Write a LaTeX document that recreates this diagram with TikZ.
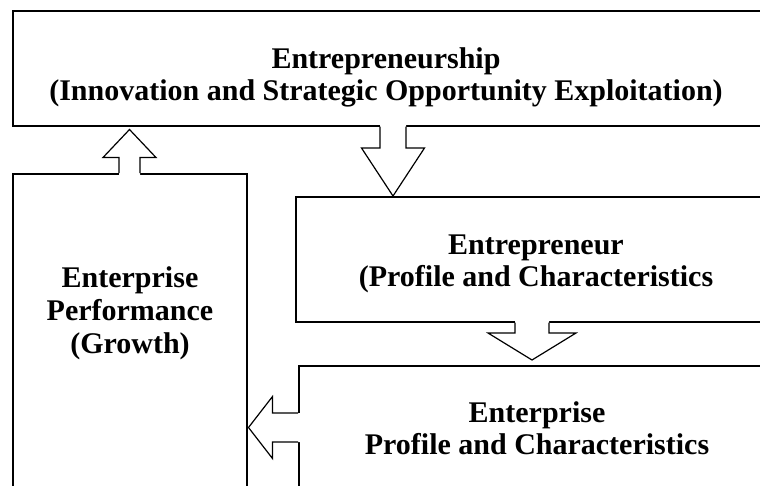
\documentclass[tikz,border=0pt]{standalone}
\usepackage{fontspec}
\setmainfont{Liberation Serif}
\usetikzlibrary{calc}
\newcommand{\blockarr}[5]{% base, tip, shaft half, head half, head length
  \coordinate (hb-#1) at ($(#2)!#5pt!(#1)$);
  \coordinate (bx-#1) at ($(#1)!-2.5pt!(#2)$);
  \fill[white] ($(bx-#1)!#3pt!90:(#2)$) -- ($(hb-#1)!#3pt!90:(#2)$) -- ($(hb-#1)!#4pt!90:(#2)$) -- (#2)
     -- ($(hb-#1)!#4pt!-90:(#2)$) -- ($(hb-#1)!#3pt!-90:(#2)$) -- ($(bx-#1)!#3pt!-90:(#2)$) -- cycle;
  \draw[arr] ($(#1)!#3pt!90:(#2)$) -- ($(hb-#1)!#3pt!90:(#2)$) -- ($(hb-#1)!#4pt!90:(#2)$) -- (#2)
     -- ($(hb-#1)!#4pt!-90:(#2)$) -- ($(hb-#1)!#3pt!-90:(#2)$) -- ($(#1)!#3pt!-90:(#2)$);
}
\begin{document}
\begin{tikzpicture}[x=1pt,y=-1pt,
  box/.style={draw,line width=1.5pt,anchor=north west,inner sep=0pt,minimum width=#1},
  txt/.style={align=center,inner sep=0pt,font=\fontsize{30}{32}\selectfont\bfseries},
  arr/.style={line width=1.2pt,line join=miter}]
\useasboundingbox (0,0) rectangle (760,485);
\clip (0,0) rectangle (760,485);
\fill[white] (0,0) rectangle (760,485);
% boxes
\node[box=749pt,minimum height=115pt] (entship) at (12,10) {};
\node[box=234pt,minimum height=340pt] (perf) at (12,173) {};
\node[box=482pt,minimum height=125pt] (eur) at (295,196) {};
\node[box=480pt,minimum height=150pt] (ent) at (298,365) {};
% texts
\node[txt] (t1) at (386,77) {Entrepreneurship\\(Innovation and Strategic Opportunity Exploitation)};
\node[txt,font=\fontsize{30}{33}\selectfont\bfseries] (t2) at (130,313) {Enterprise\\Performance\\(Growth)};
\node[txt] (t3) at (536,264) {Entrepreneur\\(Profile and Characteristics};
\node[txt] (t4) at (537,428) {Enterprise\\Profile and Characteristics};
% arrow anchors
\coordinate (upB) at ($(perf.north west)+(117.5,0)$);
\coordinate (upT) at ($(entship.south west)+(117.5,3)$);
\coordinate (dA) at ($(entship.south west)+(381,0)$);
\coordinate (dAT) at (dA |- eur.north);
\coordinate (dB) at ($(eur.south west)+(237,0)$);
\coordinate (dBT) at ($(dB |- ent.north)+(0,-5)$);
\coordinate (lB) at ($(ent.north west)+(0,62.5)$);
\coordinate (lT) at ($(lB -| perf.east)+(1,0)$);
\blockarr{upB}{upT}{10.5}{26.5}{28}
\blockarr{dA}{dAT}{13}{31.5}{48}
\blockarr{dB}{dBT}{17}{44}{27}
\blockarr{lB}{lT}{14.5}{31}{24}
\end{tikzpicture}
\end{document}
